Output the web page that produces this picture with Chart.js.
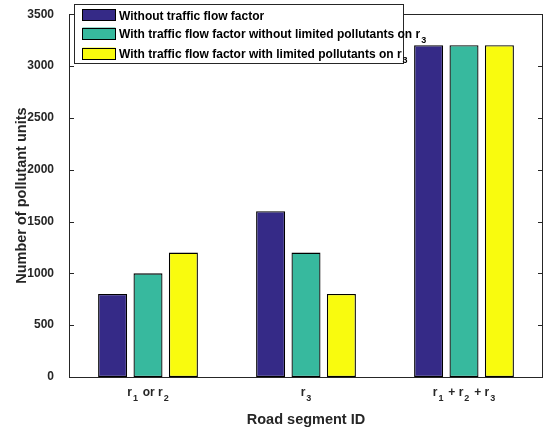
<!DOCTYPE html>
<html>
<head>
<meta charset="utf-8">
<script src="https://cdn.jsdelivr.net/npm/chart.js@4/dist/chart.umd.min.js"></script>
<style>
html,body{margin:0;padding:0;background:#fff;}
#wrap{width:550px;height:429px;}
</style>
</head>
<body>
<div id="wrap"><canvas id="c" width="550" height="429"></canvas></div>
<script>
// ---- data ----
const categories = ['r_{1} or r_{2}', 'r_{3}', 'r_{1} + r_{2} + r_{3}'];
const seriesNames = [
  'Without traffic flow factor',
  'With traffic flow factor without limited pollutants on r_{3}',
  'With traffic flow factor with limited pollutants on r_{3}'
];
const withoutFactor = [800, 1600, 3200];
const withFactorNoLimit = [1000, 1200, 3200];
const withFactorLimit = [1200, 800, 3200];
const yTicks = [0, 500, 1000, 1500, 2000, 2500, 3000, 3500];
const xTitle = 'Road segment ID';
const yTitle = 'Number of pollutant units';

const colors = ['#352A87', '#37B99E', '#F9FB0E'];
const FONT = "'Liberation Sans', Arial, Helvetica, sans-serif";
const AXIS = '#262626';

function parseRich(s) {
  const segs = [];
  const re = /_\{([^}]*)\}/g;
  let last = 0, m;
  while ((m = re.exec(s)) !== null) {
    if (m.index > last) segs.push({t: s.slice(last, m.index), sub: false});
    segs.push({t: m[1], sub: true});
    last = re.lastIndex;
  }
  if (last < s.length) segs.push({t: s.slice(last), sub: false});
  return segs;
}

function drawRich(ctx, s, x, y, align, mainSize, subSize, color) {
  const segs = parseRich(s);
  const mainF = 'bold ' + mainSize + 'px ' + FONT;
  const subF = 'bold ' + subSize + 'px ' + FONT;
  const subGap = 1, afterSub = 1.5;
  let total = 0;
  segs.forEach((sg, i) => {
    ctx.font = sg.sub ? subF : mainF;
    let w = ctx.measureText(sg.t).width;
    if (sg.sub) { w += subGap; if (i < segs.length - 1) w += afterSub; }
    sg.w = w;
    total += w;
  });
  let cx = align === 'center' ? x - total / 2 : x;
  ctx.fillStyle = color;
  ctx.textAlign = 'left';
  ctx.textBaseline = 'alphabetic';
  segs.forEach(sg => {
    if (sg.sub) {
      ctx.font = subF;
      ctx.fillText(sg.t, cx + subGap, y + 5);
    } else {
      ctx.font = mainF;
      ctx.fillText(sg.t, cx, y);
    }
    cx += sg.w;
  });
}

const decor = {
  id: 'decor',
  afterDraw(chart) {
    const ctx = chart.ctx;
    const a = chart.chartArea;
    const ys = chart.scales.y, xs = chart.scales.x;
    ctx.save();
    // box
    ctx.strokeStyle = AXIS;
    ctx.lineWidth = 1;
    ctx.strokeRect(Math.round(a.left) + 0.5, Math.round(a.top) + 0.5,
                   Math.round(a.right - a.left) - 1, Math.round(a.bottom - a.top));
    // inward y ticks on both sides
    ctx.beginPath();
    yTicks.forEach(v => {
      const py = Math.round(ys.getPixelForValue(v)) + 0.5;
      ctx.moveTo(a.left, py); ctx.lineTo(a.left + 5, py);
      ctx.moveTo(a.right, py); ctx.lineTo(a.right - 5, py);
    });
    ctx.stroke();
    // x tick labels with subscripts
    categories.forEach((c, i) => {
      const px = xs.getPixelForValue(i);
      drawRich(ctx, c, px, 396, 'center', 12, 9, AXIS);
    });
    // legend
    const lx0 = 74.5, ly0 = 4.5, lx1 = 403.5, ly1 = 63.5;
    ctx.fillStyle = '#fff';
    ctx.fillRect(lx0, ly0, lx1 - lx0, ly1 - ly0);
    ctx.strokeStyle = AXIS;
    ctx.strokeRect(lx0, ly0, lx1 - lx0, ly1 - ly0);
    const rowCenters = [15, 33.5, 53.5];
    chart.data.datasets.forEach((ds, i) => {
      const cy = rowCenters[i];
      ctx.fillStyle = ds.backgroundColor;
      ctx.fillRect(82.5, cy - 6, 33, 12);
      ctx.strokeStyle = '#000';
      ctx.strokeRect(82.5, Math.round(cy - 6) + 0.5, 33, 11);
      drawRich(ctx, ds.label, 119, cy + 4.5, 'left', 12, 9, '#000');
    });
    ctx.restore();
  }
};

const datasets = [withoutFactor, withFactorNoLimit, withFactorLimit].map((vals, i) => ({
  label: seriesNames[i],
  data: vals,
  backgroundColor: colors[i],
  borderColor: '#000',
  borderWidth: 1.3,
  borderSkipped: false,
  categoryPercentage: 0.672,
  barPercentage: 0.82
}));

new Chart(document.getElementById('c'), {
  type: 'bar',
  data: { labels: categories, datasets: datasets },
  options: {
    responsive: false,
    animation: false,
    devicePixelRatio: 1,
    layout: { padding: { left: 0, right: 7, top: 5, bottom: 0 } },
    plugins: { legend: { display: false }, tooltip: { enabled: false } },
    scales: {
      x: {
        offset: true,
        grid: { display: false },
        border: { display: false },
        ticks: { display: false },
        title: {
          display: true, text: xTitle, color: AXIS,
          font: { family: FONT, size: 14.5, weight: 'bold' },
          padding: { top: 0, bottom: 0 }
        },
        afterFit(scale) { scale.height = 52; }
      },
      y: {
        min: 0, max: 3500,
        grid: { display: false },
        border: { display: false },
        afterBuildTicks(scale) { scale.ticks = yTicks.map(v => ({ value: v })); },
        ticks: {
          color: AXIS, padding: 7,
          font: { family: FONT, size: 12, weight: 'bold' },
          callback: v => String(v)
        },
        title: {
          display: true, text: yTitle, color: AXIS,
          font: { family: FONT, size: 14.5, weight: 'bold' },
          padding: { top: 13, bottom: 0 }
        },
        afterFit(scale) { scale.width = 69; }
      }
    }
  },
  plugins: [decor]
});
</script>
</body>
</html>
